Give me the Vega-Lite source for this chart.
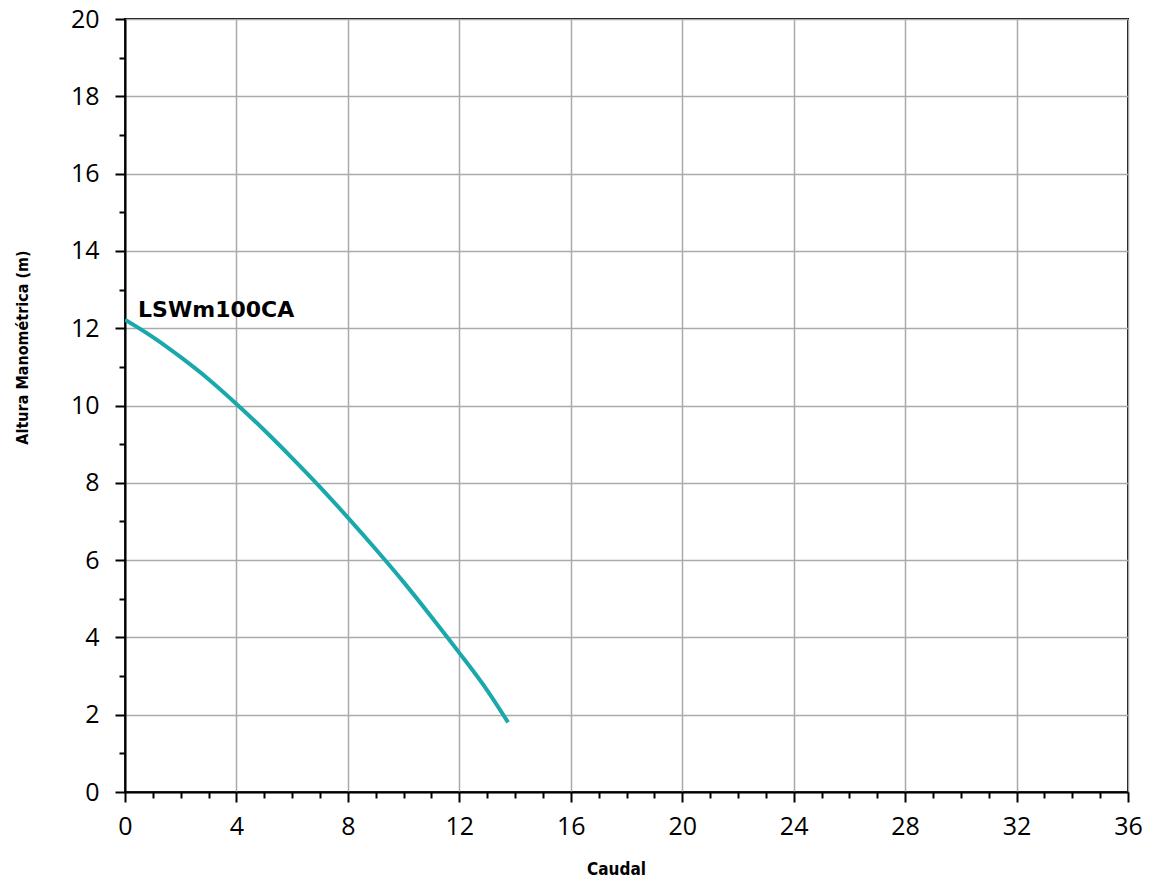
{
  "$schema": "https://vega.github.io/schema/vega-lite/v6.json",
  "autosize": "none",
  "width": 1003,
  "height": 773,
  "padding": {"left": 125, "top": 19, "right": 29, "bottom": 90},
  "background": "white",
  "config": {
    "view": {"stroke": "black", "strokeWidth": 2},
    "axis": {"domainColor": "black", "domainWidth": 2, "tickColor": "black", "tickWidth": 2, "labelColor": "black", "titleColor": "black", "labelFont": "Open Sans", "labelFontSize": 25, "titleFont": "DejaVu Sans Condensed, Roboto", "titleFontWeight": "bold", "gridColor": "#aaaaaa", "gridWidth": 1.5, "gridOpacity": 1, "labelFlush": false}
  },
  "datasets": {
    "curve": [
      {"q": 0, "h": 12.22},
      {"q": 1, "h": 11.77},
      {"q": 2, "h": 11.25},
      {"q": 3, "h": 10.68},
      {"q": 4, "h": 10.04},
      {"q": 5, "h": 9.36},
      {"q": 6, "h": 8.64},
      {"q": 7, "h": 7.89},
      {"q": 8, "h": 7.1},
      {"q": 9, "h": 6.28},
      {"q": 10, "h": 5.43},
      {"q": 11, "h": 4.53},
      {"q": 12, "h": 3.6},
      {"q": 13, "h": 2.63},
      {"q": 13.75, "h": 1.8}
    ],
    "label": [{"q": 0.47, "h": 12.47, "name": "LSWm100CA"}]
  },
  "layer": [
    {
      "data": {"name": "curve"},
      "mark": {"type": "line", "color": "#1aa8ad", "strokeWidth": 4, "interpolate": "monotone", "clip": true},
      "encoding": {
        "x": {"field": "q", "type": "quantitative", "scale": {"domain": [0, 36], "nice": false}, "title": "Caudal",
          "axis": {"values": [0, 4, 8, 12, 16, 20, 24, 28, 32, 36], "tickSize": 10, "labelPadding": 12, "titleFontSize": 17, "titleX": 491, "titleY": 77, "titleBaseline": "middle", "titleAlign": "center", "grid": true}},
        "y": {"field": "h", "type": "quantitative", "scale": {"domain": [0, 20], "nice": false}, "title": "Altura Manométrica (m)",
          "axis": {"values": [0, 2, 4, 6, 8, 10, 12, 14, 16, 18, 20], "tickSize": 10, "labelPadding": 16, "titleFontSize": 16, "titleX": -103, "titleY": 328, "titleAngle": -90, "titleBaseline": "middle", "titleAlign": "center", "grid": true}}
      }
    },
    {
      "data": {"name": "label"},
      "mark": {"type": "text", "align": "left", "baseline": "middle", "font": "DejaVu Sans", "fontWeight": "bold", "fontSize": 22, "color": "black"},
      "encoding": {
        "x": {"field": "q", "type": "quantitative", "scale": {"domain": [0, 36], "nice": false},
          "axis": {"orient": "bottom", "values": [1,2,3,5,6,7,9,10,11,13,14,15,17,18,19,21,22,23,25,26,27,29,30,31,33,34,35], "tickSize": 6, "labels": false, "domain": false, "grid": false, "title": null}},
        "y": {"field": "h", "type": "quantitative", "scale": {"domain": [0, 20], "nice": false},
          "axis": {"orient": "left", "values": [1,3,5,7,9,11,13,15,17,19], "tickSize": 6, "labels": false, "domain": false, "grid": false, "title": null}},
        "text": {"field": "name"}
      }
    }
  ],
  "resolve": {"axis": {"x": "independent", "y": "independent"}}
}
